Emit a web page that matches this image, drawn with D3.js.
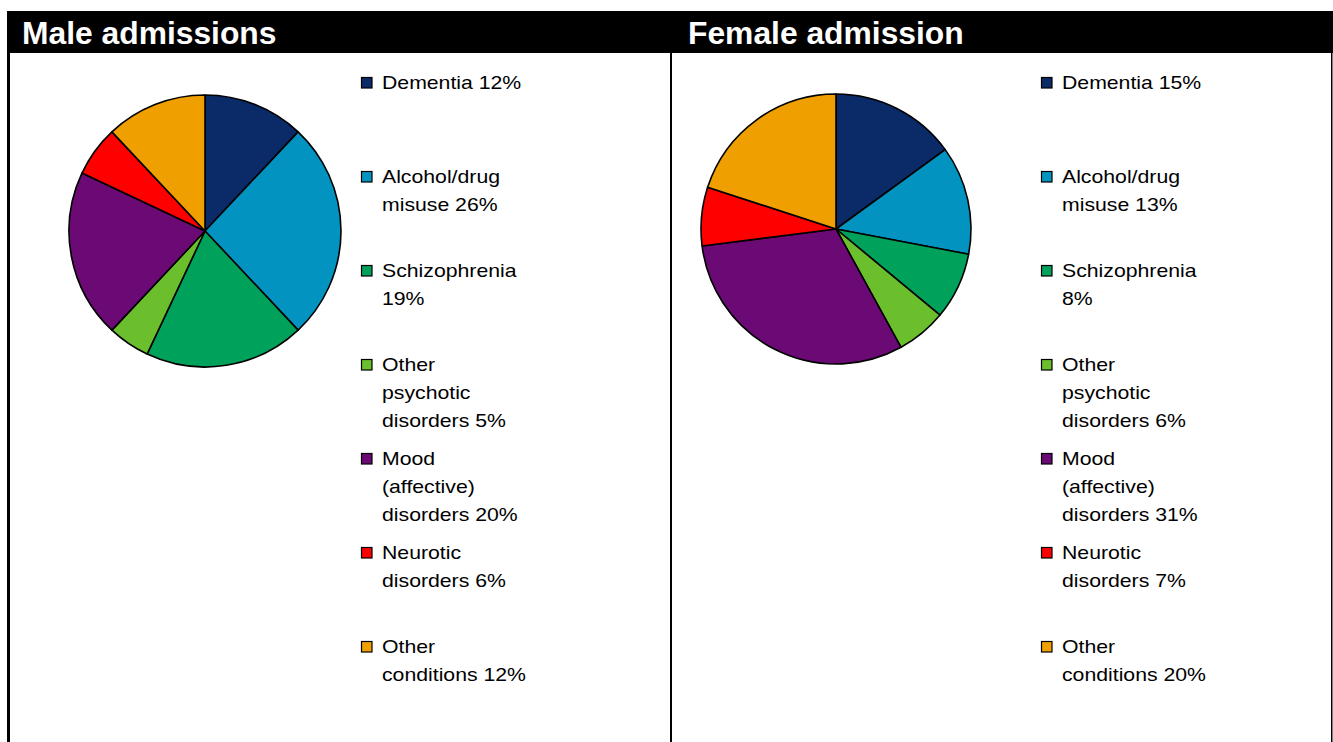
<!DOCTYPE html>
<html>
<head>
<meta charset="utf-8">
<script src="https://cdn.jsdelivr.net/npm/d3@7/dist/d3.min.js"></script>
<style>
  html, body { margin: 0; padding: 0; background: #fff; }
  svg { display: block; }
</style>
</head>
<body>
<svg id="chart" width="1333" height="742"></svg>
<script>
// Diagnosis categories (legend order, clockwise from 12 o'clock)
const categories = [
  "Dementia", "Alcohol/drug misuse", "Schizophrenia", "Other psychotic disorders",
  "Mood (affective) disorders", "Neurotic disorders", "Other conditions"
];
// How each legend entry wraps; the percentage is appended to the last line
const categoryLines = [
  ["Dementia "],
  ["Alcohol/drug", "misuse "],
  ["Schizophrenia", ""],
  ["Other", "psychotic", "disorders "],
  ["Mood", "(affective)", "disorders "],
  ["Neurotic", "disorders "],
  ["Other", "conditions "]
];
const colors = ["#0b2a68", "#0393c0", "#00a15a", "#6bbf2d", "#6b0a74", "#fe0000", "#efa000"];

// Share of admissions (%)
const maleValues = [12, 26, 19, 5, 20, 6, 12];
const femaleValues = [15, 13, 8, 6, 31, 7, 20];

const panelTitles = ["Male admissions", "Female admission"];

const svg = d3.select("#chart");
const W = 1333, H = 742;

// Header band and panel frame
svg.append("rect").attr("x", 7).attr("y", 11).attr("width", W - 7).attr("height", 42).attr("fill", "#000");
svg.append("rect").attr("x", 7).attr("y", 11).attr("width", 3).attr("height", H - 11).attr("fill", "#000");
svg.append("rect").attr("x", 670).attr("y", 53).attr("width", 2).attr("height", H - 53).attr("fill", "#000");
svg.append("rect").attr("x", 1331).attr("y", 11).attr("width", 1.5).attr("height", H - 11).attr("fill", "#000");

const panels = [
  { title: panelTitles[0], values: maleValues, titleX: 22, cx: 205, cy: 231, r: 136, legendX: 361 },
  { title: panelTitles[1], values: femaleValues, titleX: 688, cx: 836, cy: 229, r: 135, legendX: 1041 }
];

const pie = d3.pie().sort(null).value(d => d);
const fontFamily = "Arial, 'Liberation Sans', Helvetica, sans-serif";

// Legend layout: baseline of first entry, spacing between entries, line height
const legendTop = 89, entryStep = 94, lineH = 28, textStretch = 1.18;

panels.forEach(p => {
  svg.append("text")
    .attr("x", p.titleX).attr("y", 44)
    .attr("fill", "#fff")
    .attr("font-family", fontFamily)
    .attr("font-weight", "bold")
    .attr("font-size", 31.8)
    .text(p.title);

  const arc = d3.arc().innerRadius(0).outerRadius(p.r);
  const g = svg.append("g").attr("transform", `translate(${p.cx},${p.cy})`);
  g.selectAll("path")
    .data(pie(p.values))
    .join("path")
    .attr("d", arc)
    .attr("fill", (d, i) => colors[i])
    .attr("stroke", "#000")
    .attr("stroke-width", 1.6)
    .attr("stroke-linejoin", "round");

  const leg = svg.append("g");
  const entries = leg.selectAll("g.entry")
    .data(p.values)
    .join("g")
    .attr("class", "entry")
    .attr("transform", (d, i) => `translate(${p.legendX},${legendTop + i * entryStep})`);

  entries.append("rect")
    .attr("x", 0.5).attr("y", -11.5)
    .attr("width", 10.5).attr("height", 10.5)
    .attr("fill", (d, i) => colors[i])
    .attr("stroke", "#000")
    .attr("stroke-width", 1.2);

  entries.each(function(v, i) {
    const lines = categoryLines[i].slice();
    lines[lines.length - 1] = lines[lines.length - 1] + v + "%";
    const e = d3.select(this);
    lines.forEach((ln, k) => {
      e.append("g")
        .attr("transform", `translate(21,${k * lineH}) scale(${textStretch},1)`)
        .append("text")
        .attr("x", 0).attr("y", 0)
        .attr("fill", "#000")
        .attr("font-family", fontFamily)
        .attr("font-size", 18)
        .text(ln);
    });
  });
});
</script>
</body>
</html>
